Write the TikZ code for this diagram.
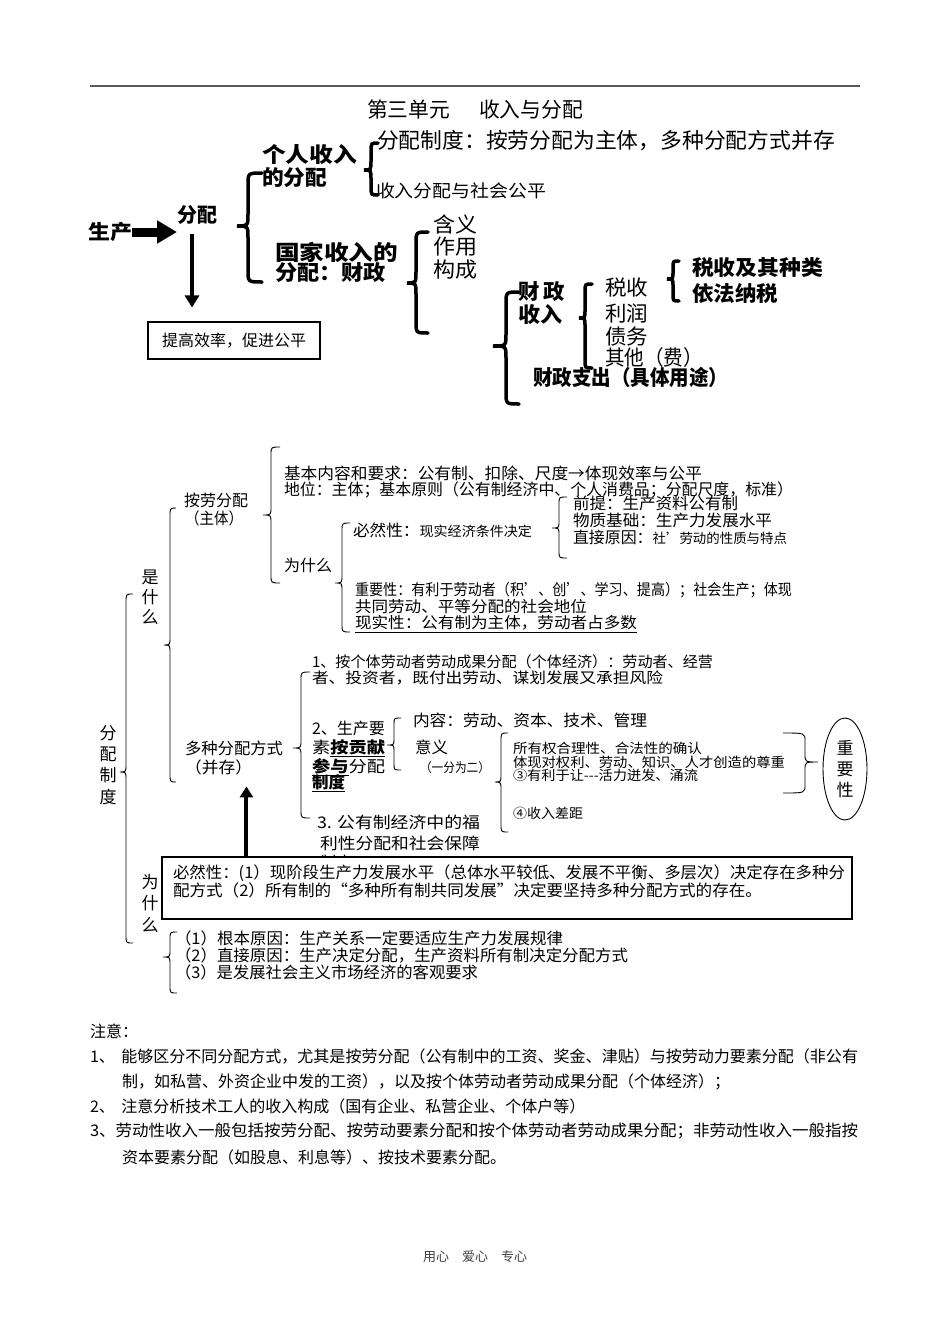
\documentclass[tikz,border=0pt]{standalone}
\usepackage{fontspec}
\usepackage{graphicx}
\setmainfont{Noto Sans CJK SC}
\usetikzlibrary{arrows.meta,shapes.geometric,calc}
\newcommand\fs[1]{\fontsize{#1pt}{#1pt}\selectfont}
\newcommand\T[6]{\node[tx] (#1) at (#2,#4) {\resizebox{\dimexpr #3pt-#2pt\relax}{\height}{\fs{#5}#6}};}
\newcommand\Pn[5]{\node[tx] (#1) at (#2,#3) {\fs{#4}#5};}
% style, tipx, spinex, armx, ytop, ytip, ybot, R
\newcommand\brc[8]{\draw[#1] (#4,#5) .. controls (#3,#5) .. (#3,{#5+#8}) -- (#3,{#6-#8}) .. controls (#3,#6) .. (#2,#6) .. controls (#3,#6) .. (#3,{#6+#8}) -- (#3,{#7-#8}) .. controls (#3,#7) .. (#4,#7);}
\begin{document}
\begin{tikzpicture}[x=1pt,y=-1pt,
  tx/.style={anchor=west,inner sep=0pt,outer sep=0pt},
  vt/.style={inner sep=0pt,align=center},
  thickbr/.style={line width=3.5pt,line cap=round},
  thinbr/.style={line width=0.9pt},
  ]
\fill[white] (0,0) rectangle (950,1344);
\useasboundingbox (0,0) rectangle (950,1344);
\draw[black!65, line width=2pt] (90,86) -- (860,86);

% ---------- top section ----------
\T{title}{367}{583}{109}{21}{第三单元\hspace{1.4em}收入与分配}
\T{zd}{377}{835}{141}{21.5}{分配制度：按劳分配为主体，多种分配方式并存}
\T{gp}{376}{546}{191}{17.5}{收入分配与社会公平}
\T{gr1}{262}{357}{155}{21}{\bfseries 个人收入}
\T{gr2}{262}{327}{178}{21}{\bfseries 的分配}
\T{sc}{88}{132}{232}{20}{\bfseries 生产}
\T{fp}{177}{217}{215}{20}{\bfseries 分配}
\T{gj1}{275}{398}{252}{21}{\bfseries 国家收入的}
\T{gj2}{275}{386}{273}{21}{\bfseries 分配：财政}
\T{hy}{433}{477}{224}{21}{含义}
\T{zy}{433}{477}{247}{21}{作用}
\T{gc}{433}{477}{270}{21}{构成}
\node[draw,line width=1.1pt,minimum width=172pt,minimum height=37pt,inner sep=0pt] (tg) at (234,340.5) {\fs{16}提高效率，促进公平};
\T{czsr1}{518}{565}{292}{21}{\bfseries 财\hspace{0.2em}政}
\T{czsr2}{518}{562}{315}{21}{\bfseries 收入}
\T{ss}{605}{648}{288}{21}{税收}
\T{lr}{605}{648}{313}{21}{利润}
\T{zw}{605}{648}{337}{21}{债务}
\T{qt}{605}{703}{358}{21}{其他（费）}
\T{sszl}{692}{823}{268}{21}{\bfseries 税收及其种类}
\T{yfns}{692}{778}{293}{21}{\bfseries 依法纳税}
\T{czzc}{533}{728}{377}{21}{\bfseries 财政支出（具体用途）}

\brc{thickbr}{364}{371}{378}{143}{170}{195}{9}
\brc{thickbr}{237}{248}{262}{173}{226}{282}{12}
\brc{thickbr}{407}{416}{428}{232}{283}{333}{12}
\brc{thickbr}{493}{506}{519}{292}{346}{404}{12}
\brc{thickbr}{579}{585}{592}{284}{318}{368}{8}
\brc{thickbr}{667}{673}{679}{261}{279}{301}{7}

\draw[line width=9pt,-{Triangle[length=20pt,width=22pt]}] (sc.east) -- (sc.east -| fp.west);
\coordinate (a1) at ([xshift=-5pt,yshift=-10pt]fp.south);
\draw[line width=4.5pt,shorten >=14pt,-{Triangle[length=12pt,width=14pt]}] (a1) -- (a1 |- tg.north);

% ---------- middle section ----------
\T{al1}{184}{248}{500}{16}{按劳分配}
\T{al2}{185}{243}{518}{16}{（主体）}
\T{jb}{284}{702}{473}{16}{基本内容和要求：公有制、扣除、尺度→体现效率与公平}
\T{dw}{284}{793}{490}{16}{地位：主体；基本原则（公有制经济中、个人消费品；分配尺度，标准）}
\T{wsm1}{284}{332}{565}{16}{为什么}
\T{br}{353}{532}{530}{16}{必然性：{\fs{13.5}现实经济条件决定}}
\T{qt1}{573}{738}{503}{16}{前提：生产资料公有制}
\T{wz}{573}{772}{520}{16}{物质基础：生产力发展水平}
\T{zj}{573}{787}{537}{16}{直接原因：{\fs{13.5}社’劳动的性质与特点}}
\T{zyx1}{355}{792}{590}{15.5}{重要性：有利于劳动者（积’、创’、学习、提高）；社会生产；体现}
\T{zyx2}{355}{587}{607}{15.5}{共同劳动、平等分配的社会地位}
\T{sx}{355}{637}{624}{15.5}{\underline{现实性：公有制为主体，劳动者占多数}}

\node[vt,font=\fontsize{17pt}{20pt}\selectfont] (ssm) at (150,597) {是\\什\\么};
\node[vt,font=\fontsize{17pt}{21.3pt}\selectfont] (fpzd) at (108,765) {分\\配\\制\\度};
\node[vt,font=\fontsize{17pt}{21.5pt}\selectfont] (wsm2) at (150,903) {为\\什\\么};

\T{dz1}{185}{283}{748}{16}{多种分配方式}
\T{dz2}{185}{252}{767}{16}{（并存）}
\T{g1a}{312}{713}{662}{15}{1、按个体劳动者劳动成果分配（个体经济）：劳动者、经营}
\T{g1b}{312}{663}{678}{15}{者、投资者，既付出劳动、谋划发展又承担风险}
\T{g2a}{312}{385}{728}{16}{2、生产要}
\T{g2b}{312}{385}{748}{16}{素\underline{\bfseries 按贡献}}
\T{g2c}{312}{385}{767}{16}{\underline{\bfseries 参与}分配}
\T{g2d}{312}{345}{783}{16}{\underline{\bfseries 制度}}
\T{nr}{413}{647}{720}{16}{内容：劳动、资本、技术、管理}
\T{yy}{415}{448}{747}{16}{意义}
\T{yfwe}{420}{490}{768}{13}{（一分为二）}
\T{g3a}{317}{480}{822}{16}{3. 公有制经济中的福}
\T{g3b}{320}{480}{843}{16}{利性分配和社会保障}
\begin{scope}
\clip (300,850) rectangle (400,857);
\T{g3c}{320}{352}{862}{16}{制度}
\end{scope}
\T{m1}{513}{702}{748}{13.5}{所有权合理性、合法性的确认}
\T{m2}{513}{785}{762}{13.5}{体现对权利、劳动、知识、人才创造的尊重}
\T{m3}{513}{698}{775}{13.5}{③有利于让-{}-{}-活力迸发、涌流}
\T{m4}{513}{583}{813}{13.5}{④收入差距}
\node[draw,ellipse,line width=0.9pt,minimum width=44pt,minimum height=102pt,inner sep=0pt,align=center,font=\fontsize{17pt}{21pt}\selectfont] (imp) at (845,769) {重\\要\\性};

\brc{thinbr}{120}{126}{133}{594}{772}{943}{8}
\brc{thinbr}{164}{170}{176}{508}{645}{782}{8}
\brc{thinbr}{263}{271}{280}{447}{515}{583}{8}
\brc{thinbr}{335}{342}{350}{523}{583}{632}{8}
\brc{thinbr}{552}{559}{567}{497}{528}{558}{7}
\brc{thinbr}{293}{301}{310}{672}{748}{818}{8}
\brc{thinbr}{387}{394}{401}{718}{745}{770}{6}
\brc{thinbr}{495}{501}{508}{733}{782}{832}{8}
\brc{thinbr}{818}{805}{783}{733}{762}{793}{8}
\brc{thinbr}{163}{170}{177}{932}{957}{993}{7}

\node[draw,fill=white,line width=1.1pt,minimum width=690pt,minimum height=62pt,inner sep=0pt] (bx) at (507,888) {};
\T{bx1}{173}{845}{873}{16}{必然性：(1）现阶段生产力发展水平（总体水平较低、发展不平衡、多层次）决定存在多种分}
\T{bx2}{173}{762}{890}{16}{配方式（2）所有制的“多种所有制共同发展”决定要坚持多种分配方式的存在。}
\coordinate (a3) at ($(bx.north west)+(85,0)$);
\draw[line width=4pt,-{Triangle[length=11pt,width=13pt]}] (a3) -- ++(0,-70);

\T{r1}{175}{563}{938}{16}{（1）根本原因：生产关系一定要适应生产力发展规律}
\T{r2}{175}{628}{955}{16}{（2）直接原因：生产决定分配，生产资料所有制决定分配方式}
\T{r3}{175}{478}{972}{16}{（3）是发展社会主义市场经济的客观要求}

% ---------- notes ----------
\Pn{nt0}{90}{1031}{16}{注意：}
\T{nt1}{90}{858}{1056}{16}{1、\hspace{0.4em}能够区分不同分配方式，尤其是按劳分配（公有制中的工资、奖金、津贴）与按劳动力要素分配（非公有}
\Pn{nt2}{122}{1082}{16}{制，如私营、外资企业中发的工资），以及按个体劳动者劳动成果分配（个体经济）；}
\Pn{nt3}{90}{1106}{16}{2、\hspace{0.4em}注意分析技术工人的收入构成（国有企业、私营企业、个体户等）}
\T{nt4}{90}{858}{1131}{16}{3、劳动性收入一般包括按劳分配、按劳动要素分配和按个体劳动者劳动成果分配；非劳动性收入一般指按}
\Pn{nt5}{122}{1157}{16}{资本要素分配（如股息、利息等）、按技术要素分配。}
\node[tx,text=black!75] (ft) at (423,1257) {\fs{13}用心\hspace{1em}爱心\hspace{1em}专心};
\end{tikzpicture}
\end{document}
